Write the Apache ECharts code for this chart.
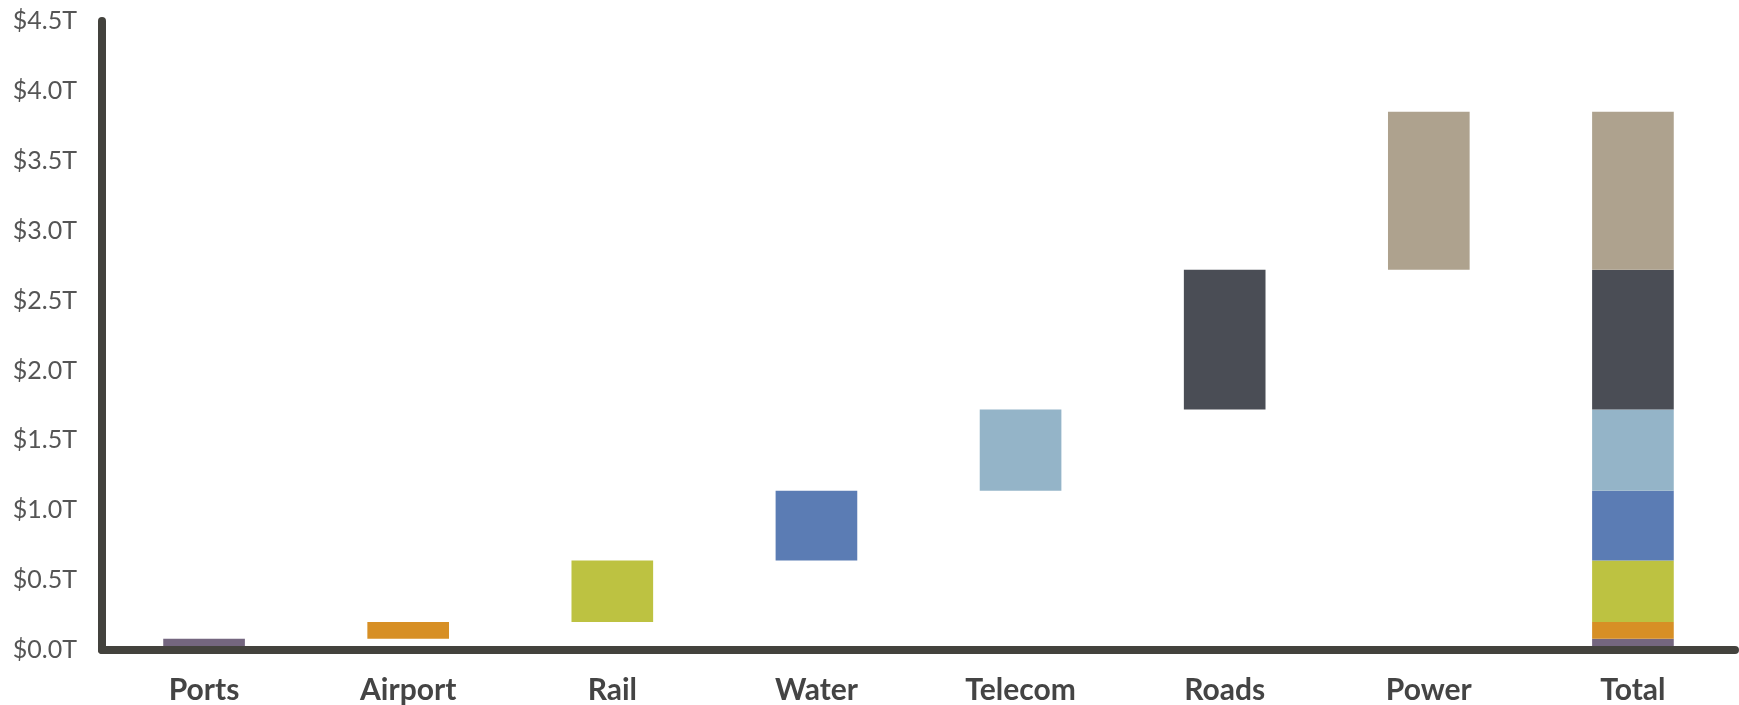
<!DOCTYPE html>
<html>
<head>
<meta charset="utf-8">
<title>Infrastructure investment by sector</title>
<script src="https://cdn.jsdelivr.net/npm/echarts@6/dist/echarts.min.js"></script>
<style>
  html, body { margin: 0; padding: 0; background: #ffffff; }
  #chart { width: 1739px; height: 705px; }
</style>
</head>
<body>
<div id="chart"></div>
<script>
// Sectors, in the order they build up the total (trillions of dollars)
const sectors = ['Ports', 'Airport', 'Rail', 'Water', 'Telecom', 'Roads', 'Power'];
const sectorValues = [0.08, 0.12, 0.44, 0.50, 0.58, 1.00, 1.13];
const sectorColors = ['#74667f', '#d78f25', '#bdc241', '#5b7cb4', '#94b4c8', '#4a4d55', '#aea28e'];
const totalLabel = 'Total';
const yTicks = { min: 0, max: 4.5, step: 0.5 };

const categories = sectors.concat([totalLabel]);

// Invisible offsets so each sector floats on top of the ones before it
const offsets = [];
let running = 0;
sectorValues.forEach(v => { offsets.push(+running.toFixed(4)); running += v; });
offsets.push(0); // total column starts at zero

const series = [{
  name: 'offset',
  type: 'bar',
  stack: 'waterfall',
  barWidth: '40%',
  silent: true,
  itemStyle: { color: 'rgba(0,0,0,0)' },
  data: offsets
}];

sectors.forEach((name, i) => {
  const data = categories.map((c, j) => (j === i || c === totalLabel) ? sectorValues[i] : 0);
  series.push({
    name: name,
    type: 'bar',
    stack: 'waterfall',
    barWidth: '40%',
    itemStyle: { color: sectorColors[i] },
    data: data
  });
});

const chart = echarts.init(document.getElementById('chart'), null, { renderer: 'canvas' });
chart.setOption({
  animation: false,
  backgroundColor: '#ffffff',
  grid: { left: 102, right: 4, top: 21, bottom: 55, containLabel: false, outerBoundsMode: 'none' },
  xAxis: {
    type: 'category',
    data: categories,
    z: 10,
    axisLine: { show: true, lineStyle: { color: '#43423d', width: 8 } },
    axisTick: { show: false },
    axisLabel: {
      margin: 25,
      color: '#444444',
      fontFamily: 'Lato',
      fontWeight: 'bold',
      fontSize: 30,
      interval: 0
    },
    splitLine: { show: false }
  },
  yAxis: {
    type: 'value',
    min: yTicks.min,
    max: yTicks.max,
    interval: yTicks.step,
    z: 10,
    axisLine: { show: true, lineStyle: { color: '#43423d', width: 8 } },
    axisTick: { show: false },
    splitLine: { show: false },
    axisLabel: {
      margin: 25,
      color: '#555555',
      fontFamily: 'Lato',
      fontSize: 25,
      formatter: v => '$' + v.toFixed(1) + 'T'
    }
  },
  series: series
});
</script>
</body>
</html>
